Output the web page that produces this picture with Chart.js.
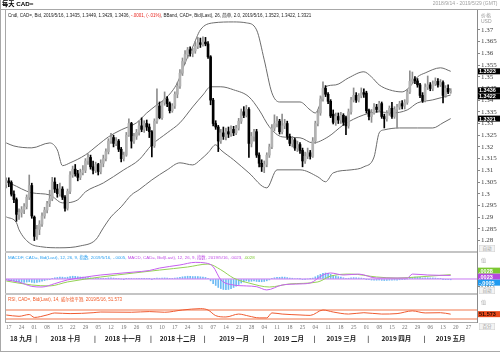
<!DOCTYPE html>
<html>
<head>
<meta charset="utf-8">
<script src="https://cdn.jsdelivr.net/npm/chart.js@4.4.1/dist/chart.umd.min.js"></script>
<style>
html, body { margin: 0; padding: 0; background: #fff; }
#wrap { position: relative; width: 500px; height: 352px; overflow: hidden; background: #fff; }
canvas { position: absolute; left: 0; }
.ln { position: absolute; background: #a8a8a8; }
.t { position: absolute; white-space: nowrap; transform: scale(.5); transform-origin: 0 0; line-height: 1;
     font-family: "Liberation Sans", "Noto Sans CJK SC", sans-serif; color: #222; }
.tr { transform-origin: 100% 0; }
.tag { position: absolute; white-space: nowrap; transform: scale(.5); transform-origin: 0 0; width: 30px; height: 12px;
       border: 1px solid #cfcfcf; background: #f3f3f3; color: #9a9a9a; font: 9px "Noto Sans CJK SC", sans-serif;
       line-height: 12px; text-align: center; }
</style>
</head>
<body>
<div id="wrap">
  <div class="ln" style="left:0;top:0;width:1px;height:352px"></div>
  <div class="ln" style="left:0;top:351px;width:500px;height:1px"></div>
  <div class="ln" style="left:0;top:9px;width:500px;height:1px"></div>
  <div class="ln" style="left:5px;top:9px;width:1px;height:313px"></div>
  <div class="ln" style="left:5px;top:322px;width:472px;height:1px"></div>
  <div class="ln" style="left:5px;top:251px;width:472px;height:2px;background:#c4c4c4"></div>
  <div class="ln" style="left:5px;top:293px;width:472px;height:2px;background:#c4c4c4"></div>

  <canvas id="cPrice" width="500" height="254" style="top:4px"></canvas>
  <canvas id="cMacd" width="500" height="54" style="top:246px"></canvas>
  <canvas id="cRsi" width="500" height="40" style="top:288px"></canvas>
  <canvas id="cAxis" width="500" height="32" style="top:320px"></canvas>

  <div class="t" style="left:2px;top:1px;font-size:12.5px;font-weight:bold;color:#000">每天 CAD=</div>
  <div class="t tr" style="right:2px;top:1px;font-size:10px;color:#a0a0a0">2018/9/14 - 2019/5/29 (GMT)</div>
  <div class="t" style="left:8px;top:12.5px;font-size:9px">Cndl, CAD=, Bid, 2019/5/16, 1.3435, 1.3449, 1.3429, 1.3436, <span style="color:#e8231c">-.0001, (-.01%)</span>, BBand, CAD=, Bid(Last), 26, 简单, 2.0, 2019/5/16, 1.3523, 1.3422, 1.3321</div>
  <div class="t" style="left:481px;top:13px;font-size:10px;color:#999">价格</div>
  <div class="t" style="left:481px;top:19px;font-size:10px;color:#999">USD</div>
  <div class="t" style="left:8px;top:254.5px;font-size:8.8px"><span style="color:#2a9ff0">MACDF, CAD=, Bid(Last), 12, 26, 9, 指数, 2019/5/16, -.0005, </span><span style="color:#c04ee6">MACD, CAD=, Bid(Last), 12, 26, 9, 指数, 2019/5/16, .0023, </span><span style="color:#7cc832">.0028</span></div>
  <div class="t" style="left:481px;top:258px;font-size:10px;color:#aaa">值</div>
  <div class="t" style="left:8px;top:296.5px;font-size:9px;color:#f05a28">RSI, CAD=, Bid(Last), 14, 威尔德平滑, 2019/5/16, 51.573</div>
  <div class="t" style="left:481px;top:300px;font-size:10px;color:#aaa">值</div>
  <div class="tag" style="left:479px;top:245px">自动</div>
  <div class="tag" style="left:479px;top:287px">自动</div>
  <div class="tag" style="left:479px;top:323px">百分</div>
</div>

<script>
// daily candles, 2018/9/14 .. 2019/5/16 (trading days)
const open = [
  1.3040,1.3055,1.3048,1.2998,1.2975,1.2912,1.2920,1.2932,1.2945,1.2985,
  1.3035,1.2900,1.2818,1.2848,1.2870,1.2905,1.2930,1.2958,1.2978,1.3050,
  1.3020,1.3000,1.3020,1.2985,1.2938,1.3010,1.3080,1.3105,1.3085,1.3070,
  1.3090,1.3100,1.3140,1.3155,1.3115,1.3100,1.3125,1.3095,1.3130,1.3150,
  1.3180,1.3225,1.3240,1.3215,1.3225,1.3190,1.3150,1.3165,1.3250,1.3300,
  1.3225,1.3245,1.3262,1.3290,1.3275,1.3300,1.3285,1.3265,1.3205,1.3310,
  1.3375,1.3325,1.3390,1.3405,1.3385,1.3355,1.3375,1.3425,1.3460,1.3515,
  1.3565,1.3595,1.3615,1.3600,1.3610,1.3630,1.3645,1.3638,1.3648,1.3640,
  1.3585,1.3400,1.3300,1.3285,1.3225,1.3260,1.3245,1.3265,1.3255,1.3275,
  1.3260,1.3280,1.3310,1.3350,1.3335,1.3360,1.3215,1.3245,1.3265,1.3165,
  1.3130,1.3115,1.3125,1.3165,1.3200,1.3280,1.3300,1.3310,1.3265,1.3290,
  1.3300,1.3245,1.3215,1.3230,1.3195,1.3210,1.3185,1.3140,1.3160,1.3175,
  1.3160,1.3225,1.3300,1.3345,1.3405,1.3450,1.3425,1.3395,1.3340,1.3305,
  1.3330,1.3315,1.3335,1.3325,1.3290,1.3350,1.3400,1.3420,1.3400,1.3418,
  1.3432,1.3430,1.3355,1.3330,1.3345,1.3370,1.3360,1.3385,1.3330,1.3320,
  1.3345,1.3365,1.3330,1.3360,1.3370,1.3385,1.3375,1.3390,1.3435,1.3480,
  1.3490,1.3482,1.3465,1.3420,1.3398,1.3455,1.3465,1.3450,1.3470,1.3480,
  1.3465,1.3475,1.3420,1.3450,1.3435
];
const high = [
  1.3068,1.3068,1.3055,1.3012,1.2982,1.2935,1.2945,1.2958,1.2995,1.3080,
  1.3045,1.2905,1.2865,1.2885,1.2918,1.2942,1.2968,1.3015,1.3070,1.3068,
  1.3040,1.3045,1.3030,1.2992,1.3020,1.3095,1.3118,1.3125,1.3100,1.3105,
  1.3120,1.3150,1.3170,1.3165,1.3140,1.3135,1.3130,1.3145,1.3165,1.3192,
  1.3235,1.3258,1.3250,1.3240,1.3232,1.3198,1.3178,1.3262,1.3320,1.3305,
  1.3258,1.3275,1.3310,1.3324,1.3312,1.3315,1.3298,1.3270,1.3320,1.3448,
  1.3392,1.3395,1.3435,1.3415,1.3392,1.3385,1.3435,1.3475,1.3530,1.3580,
  1.3612,1.3625,1.3628,1.3622,1.3650,1.3668,1.3665,1.3670,1.3668,1.3650,
  1.3590,1.3408,1.3312,1.3292,1.3275,1.3285,1.3280,1.3285,1.3290,1.3288,
  1.3292,1.3322,1.3362,1.3372,1.3378,1.3368,1.3262,1.3275,1.3275,1.3175,
  1.3145,1.3140,1.3175,1.3212,1.3295,1.3337,1.3330,1.3318,1.3340,1.3318,
  1.3310,1.3255,1.3245,1.3238,1.3225,1.3218,1.3195,1.3178,1.3195,1.3185,
  1.3240,1.3310,1.3358,1.3418,1.3478,1.3462,1.3432,1.3402,1.3358,1.3345,
  1.3345,1.3348,1.3342,1.3332,1.3362,1.3412,1.3452,1.3432,1.3428,1.3452,
  1.3448,1.3438,1.3362,1.3360,1.3385,1.3382,1.3395,1.3392,1.3340,1.3355,
  1.3375,1.3390,1.3372,1.3382,1.3395,1.3398,1.3402,1.3445,1.3525,1.3520,
  1.3500,1.3492,1.3472,1.3432,1.3470,1.3503,1.3475,1.3482,1.3495,1.3492,
  1.3488,1.3482,1.3462,1.3465,1.3449
];
const low = [
  1.3025,1.3030,1.2990,1.2962,1.2882,1.2890,1.2900,1.2915,1.2935,1.2975,
  1.2895,1.2800,1.2805,1.2825,1.2860,1.2895,1.2918,1.2945,1.2970,1.3005,
  1.2985,1.2990,1.2975,1.2925,1.2930,1.3000,1.3070,1.3075,1.3055,1.3060,
  1.3080,1.3090,1.3125,1.3105,1.3085,1.3090,1.3080,1.3085,1.3115,1.3140,
  1.3170,1.3215,1.3200,1.3205,1.3180,1.3136,1.3140,1.3160,1.3245,1.3195,
  1.3215,1.3232,1.3250,1.3265,1.3262,1.3270,1.3240,1.3157,1.3198,1.3300,
  1.3320,1.3318,1.3378,1.3372,1.3345,1.3348,1.3365,1.3410,1.3450,1.3505,
  1.3555,1.3580,1.3588,1.3585,1.3600,1.3620,1.3625,1.3630,1.3632,1.3578,
  1.3380,1.3290,1.3275,1.3180,1.3215,1.3232,1.3230,1.3240,1.3245,1.3248,
  1.3252,1.3272,1.3300,1.3325,1.3328,1.3155,1.3200,1.3225,1.3155,1.3115,
  1.3095,1.3090,1.3115,1.3155,1.3192,1.3268,1.3285,1.3255,1.3255,1.3278,
  1.3232,1.3205,1.3200,1.3185,1.3180,1.3172,1.3115,1.3130,1.3150,1.3148,
  1.3155,1.3215,1.3290,1.3335,1.3395,1.3415,1.3385,1.3325,1.3298,1.3292,
  1.3300,1.3300,1.3292,1.3252,1.3280,1.3340,1.3392,1.3390,1.3392,1.3410,
  1.3412,1.3345,1.3315,1.3305,1.3340,1.3348,1.3352,1.3322,1.3281,1.3310,
  1.3335,1.3322,1.3322,1.3281,1.3360,1.3362,1.3362,1.3382,1.3428,1.3470,
  1.3470,1.3455,1.3410,1.3390,1.3392,1.3445,1.3440,1.3440,1.3462,1.3455,
  1.3458,1.3388,1.3412,1.3428,1.3429
];
const close = [
  1.3055,1.3048,1.2998,1.2975,1.2912,1.2920,1.2932,1.2945,1.2985,1.3035,
  1.2905,1.2818,1.2848,1.2870,1.2905,1.2930,1.2958,1.2978,1.3050,1.3020,
  1.3000,1.3020,1.2985,1.2938,1.3010,1.3080,1.3105,1.3085,1.3070,1.3090,
  1.3100,1.3140,1.3155,1.3115,1.3100,1.3125,1.3095,1.3130,1.3150,1.3180,
  1.3225,1.3240,1.3215,1.3225,1.3190,1.3150,1.3165,1.3250,1.3300,1.3225,
  1.3245,1.3262,1.3290,1.3275,1.3300,1.3285,1.3265,1.3205,1.3310,1.3375,
  1.3325,1.3390,1.3405,1.3385,1.3355,1.3375,1.3425,1.3460,1.3515,1.3565,
  1.3595,1.3615,1.3600,1.3610,1.3630,1.3645,1.3638,1.3648,1.3640,1.3585,
  1.3400,1.3300,1.3285,1.3225,1.3260,1.3245,1.3265,1.3255,1.3275,1.3260,
  1.3280,1.3310,1.3350,1.3335,1.3360,1.3215,1.3245,1.3265,1.3165,1.3130,
  1.3115,1.3125,1.3165,1.3200,1.3280,1.3300,1.3310,1.3265,1.3290,1.3300,
  1.3245,1.3215,1.3230,1.3195,1.3210,1.3185,1.3140,1.3160,1.3175,1.3160,
  1.3225,1.3300,1.3345,1.3405,1.3450,1.3425,1.3395,1.3332,1.3305,1.3330,
  1.3315,1.3335,1.3305,1.3290,1.3350,1.3400,1.3420,1.3400,1.3418,1.3432,
  1.3425,1.3355,1.3330,1.3345,1.3370,1.3360,1.3385,1.3330,1.3320,1.3345,
  1.3365,1.3330,1.3360,1.3370,1.3385,1.3375,1.3390,1.3435,1.3480,1.3490,
  1.3482,1.3465,1.3420,1.3398,1.3455,1.3465,1.3450,1.3470,1.3480,1.3465,
  1.3475,1.3420,1.3450,1.3435,1.3436
];

// Bollinger band (26, 2.0) read at sample days
const bbUpperIdx = [0,3,10,17,20,22,25,31,36,40,45,51,55,59,63,67,70,73,76,81,89,94,98,101,104,107,115,119,121,123,125,129,134,140,143,146,150,155,158,161,164,170,174];
const bbUpper = [1.3217,1.3204,1.3196,1.3217,1.3187,1.3120,1.3132,1.3166,1.3209,1.3243,1.3273,1.3303,1.3345,1.3380,1.3414,1.3474,1.3559,1.3627,1.3700,1.3730,1.3734,1.3730,1.3700,1.3572,1.3431,1.3392,1.3392,1.3358,1.3345,1.3388,1.3457,1.3465,1.3495,1.3521,1.3499,1.3465,1.3444,1.3435,1.3457,1.3499,1.3516,1.3538,1.3523];
const bbMidIdx = [0,2,10,17,22,28,31,38,46,52,57,63,68,73,77,80,84,89,95,99,103,108,115,120,126,132,140,146,151,157,161,167,174];
const bbMid = [1.3051,1.3042,1.3004,1.2995,1.2961,1.2974,1.3008,1.3046,1.3102,1.3145,1.3209,1.3260,1.3303,1.3371,1.3422,1.3457,1.3457,1.3444,1.3414,1.3358,1.3286,1.3243,1.3239,1.3217,1.3243,1.3294,1.3337,1.3350,1.3345,1.3358,1.3388,1.3401,1.3422];
const bbLowerIdx = [0,4,5,9,14,21,29,35,38,41,45,49,52,57,63,68,73,76,79,82,84,89,95,102,106,115,122,125,128,135,140,144,146,148,154,161,167,171,174];
const bbLower = [1.2901,1.2876,1.2846,1.2790,1.2773,1.2769,1.2777,1.2803,1.2854,1.2901,1.2944,1.2995,1.3017,1.3059,1.3102,1.3132,1.3123,1.3145,1.3175,1.3209,1.3187,1.3145,1.3089,1.3025,1.3102,1.3102,1.3072,1.3051,1.3089,1.3102,1.3115,1.3157,1.3260,1.3273,1.3281,1.3281,1.3281,1.3303,1.3321];

// MACD (12, 26, 9)
const macdIdx = [0,5,10,14,19,24,30,37,43,50,56,60,68,74,78,81,84,89,94,98,102,108,115,119,124,127,132,138,145,151,157,159,165,174];
const macdLine = [-0.0006,-0.0020,-0.0048,-0.0052,-0.0030,-0.0006,0.0010,0.0026,0.0035,0.0045,0.0055,0.0071,0.0091,0.0108,0.0104,0.0080,-0.0005,-0.0039,-0.0045,-0.0050,-0.0071,-0.0039,-0.0032,-0.0026,0.0026,0.0039,0.0026,0.0032,0.0006,0.0006,0.0006,0.0032,0.0026,0.0023];
const signalIdx = [0,10,17,24,37,50,60,71,79,84,89,95,103,111,122,127,135,145,153,161,174];
const signalLine = [-0.0013,-0.0039,-0.0045,-0.0019,0.0013,0.0039,0.0058,0.0078,0.0097,0.0060,0.0006,-0.0026,-0.0052,-0.0032,-0.0019,0.0019,0.0032,0.0013,0.0006,0.0013,0.0028];
const macdHist = [
  -0.0005,-0.0007,-0.0010,-0.0013,-0.0017,-0.0019,-0.0021,-0.0022,-0.0020,-0.0018,
  -0.0022,-0.0025,-0.0023,-0.0019,-0.0014,-0.0010,-0.0006,-0.0002,0.0004,0.0008,
  0.0010,0.0013,0.0012,0.0009,0.0012,0.0016,0.0018,0.0017,0.0015,0.0013,
  0.0012,0.0011,0.0010,0.0007,0.0005,0.0004,0.0002,0.0003,0.0004,0.0005,
  0.0007,0.0008,0.0006,0.0005,0.0003,0.0000,-0.0001,0.0002,0.0005,0.0003,
  0.0003,0.0003,0.0004,0.0004,0.0004,0.0003,0.0002,-0.0001,0.0002,0.0006,
  0.0005,0.0006,0.0007,0.0006,0.0004,0.0004,0.0006,0.0008,0.0011,0.0014,
  0.0016,0.0018,0.0017,0.0016,0.0016,0.0016,0.0014,0.0012,0.0010,0.0005,
  -0.0012,-0.0030,-0.0042,-0.0055,-0.0062,-0.0068,-0.0070,-0.0068,-0.0062,-0.0055,
  -0.0046,-0.0036,-0.0026,-0.0019,-0.0012,-0.0016,-0.0015,-0.0012,-0.0016,-0.0018,
  -0.0018,-0.0016,-0.0012,-0.0006,0.0002,0.0008,0.0011,0.0011,0.0012,0.0012,
  0.0009,0.0006,0.0005,0.0003,0.0003,0.0001,-0.0002,-0.0001,0.0000,0.0001,
  0.0006,0.0014,0.0022,0.0030,0.0036,0.0039,0.0036,0.0030,0.0024,0.0020,
  0.0015,0.0012,0.0008,0.0004,0.0005,0.0007,0.0009,0.0008,0.0007,0.0006,
  0.0004,-0.0001,-0.0005,-0.0007,-0.0008,-0.0008,-0.0007,-0.0009,-0.0010,-0.0009,
  -0.0008,-0.0008,-0.0007,-0.0007,-0.0005,-0.0004,-0.0003,0.0000,0.0006,0.0010,
  0.0012,0.0013,0.0011,0.0007,0.0008,0.0008,0.0007,0.0007,0.0006,0.0005,
  0.0004,-0.0001,-0.0002,-0.0004,-0.0005
];

// RSI (14)
const rsiIdx = [0,5,9,11,16,19,25,34,37,49,56,62,69,76,79,82,86,91,95,99,102,104,108,115,119,124,128,134,140,147,153,159,164,170,174];
const rsiLine = [47.8,42,50,37,48,56.7,54,58,61,60,63,60,70,76,70,45,39,52,43,35,35,57,52,48,46,70,61,52,58,52,54,66,57,58,51.573];

// axis labels
const priceTicks = [1.28,1.285,1.29,1.295,1.30,1.305,1.31,1.315,1.32,1.325,1.33,1.335,1.34,1.345,1.35,1.355,1.36,1.365,1.37];
const mondayLabels = ['17','24','01','08','15','22','29','05','12','19','26','03','10','17','24','31','07','14','21','28','04','11','18','25','04','11','18','25','01','08','15','22','29','06','13','20','27'];
const monthStart = [11, 34, 56, 77, 100, 120, 141, 163];
const monthNames = ['18 九月','2018 十月','2018 十一月','2018 十二月','2019 一月','2019 二月','2019 三月','2019 四月','2019 五月'];

const X_MIN = -0.1, X_MAX = 184.3;
Chart.defaults.font.family = '"Liberation Sans", "Noto Sans CJK SC", sans-serif';

const pts = (xs, ys) => xs.map((x, k) => ({x: x, y: ys[k]}));
const fixWidth = s => { s.width = 23; };
const xHidden = { type: 'linear', min: X_MIN, max: X_MAX, display: false, offset: false };

// boxes with current values on the right axis
const valueBoxes = {
    id: 'valueBoxes',
    afterDraw(chart, args, opts) {
        const ys = chart.scales.y, ctx = chart.ctx, h = 6;
        const items = opts.items.map(it => Object.assign({}, it, {py: ys.getPixelForValue(it.value)}));
        items.sort((a, b) => a.py - b.py);
        let groups = items.map(it => ({list: [it], c: it.py}));
        let again = true;
        while (again) {
            again = false;
            for (let k = 0; k < groups.length - 1; k++) {
                const a = groups[k], b = groups[k + 1];
                if (a.c + a.list.length * h / 2 > b.c - b.list.length * h / 2) {
                    const list = a.list.concat(b.list);
                    groups.splice(k, 2, {list: list, c: list.reduce((s, it) => s + it.py, 0) / list.length});
                    again = true;
                    break;
                }
            }
        }
        ctx.save();
        ctx.font = 'bold 5.5px "Liberation Sans"';
        ctx.textBaseline = 'middle';
        groups.forEach(g => g.list.forEach((it, j) => {
            const top = g.c - g.list.length * h / 2 + j * h;
            ctx.fillStyle = it.bg;
            ctx.fillRect(ys.left + 1, top, 22, h);
            ctx.fillStyle = it.fg || '#fff';
            ctx.fillText(it.text, ys.left + 2, top + h / 2 + 0.5);
        }));
        ctx.restore();
    }
};

const up = close.map((c, i) => c >= open[i]);

new Chart(document.getElementById('cPrice'), {
    type: 'bar',
    data: {
        datasets: [
            {
                data: close.map((c, i) => ({x: i, y: [open[i], c]})),
                backgroundColor: up.map(u => u ? '#b2b2b2' : '#000'),
                barThickness: 2, minBarLength: 1, grouped: false
            },
            {
                data: close.map((c, i) => ({x: i, y: [low[i], high[i]]})),
                backgroundColor: up.map(u => u ? '#8e8e8e' : '#000'),
                barThickness: 1, grouped: false
            },
            { type: 'line', data: pts(bbUpperIdx, bbUpper), borderColor: '#6c6c6c', borderWidth: 1, pointRadius: 0, cubicInterpolationMode: 'monotone' },
            { type: 'line', data: pts(bbMidIdx, bbMid), borderColor: '#6c6c6c', borderWidth: 1, pointRadius: 0, cubicInterpolationMode: 'monotone' },
            { type: 'line', data: pts(bbLowerIdx, bbLower), borderColor: '#6c6c6c', borderWidth: 1, pointRadius: 0, cubicInterpolationMode: 'monotone' }
        ]
    },
    options: {
        responsive: false, animation: false, devicePixelRatio: 1,
        layout: { padding: { left: 6, right: 0, top: 6, bottom: 6 } },
        plugins: {
            legend: { display: false }, tooltip: { enabled: false },
            valueBoxes: { items: [
                { value: 1.3523, text: '1.3523', bg: '#000' },
                { value: 1.3436, text: '1.3436', bg: '#000' },
                { value: 1.3422, text: '1.3422', bg: '#000' },
                { value: 1.3321, text: '1.3321', bg: '#000' }
            ] }
        },
        scales: {
            x: xHidden,
            y: {
                position: 'right', min: 1.2751, max: 1.3785,
                afterBuildTicks: s => { s.ticks = priceTicks.map(v => ({value: v})); },
                afterFit: fixWidth,
                grid: { drawOnChartArea: false, tickLength: 3, color: '#888' },
                border: { color: '#8a8a8a' },
                ticks: { padding: 1, color: '#444', font: { size: 7, family: '"Liberation Serif"' },
                         callback: v => String(+v.toFixed(3)) }
            }
        }
    },
    plugins: [valueBoxes]
});

const shortFmt = v => v === 0 ? '0' : v.toFixed(3).replace('0.', '.');

new Chart(document.getElementById('cMacd'), {
    type: 'bar',
    data: {
        datasets: [
            { type: 'line', data: pts(macdIdx, macdLine), borderColor: '#c65ff0', borderWidth: 1, pointRadius: 0, cubicInterpolationMode: 'monotone' },
            { type: 'line', data: pts(signalIdx, signalLine), borderColor: '#95d255', borderWidth: 1, pointRadius: 0, cubicInterpolationMode: 'monotone' },
            { type: 'line', data: [{x: X_MIN, y: 0}, {x: X_MAX, y: 0}], borderColor: '#c879f2', borderWidth: 1, pointRadius: 0 },
            { data: macdHist.map((v, i) => ({x: i, y: v})), backgroundColor: '#6cbaf4', barThickness: 1, grouped: false }
        ]
    },
    options: {
        responsive: false, animation: false, devicePixelRatio: 1,
        layout: { padding: { left: 6, right: 0, top: 6, bottom: 6 } },
        plugins: {
            legend: { display: false }, tooltip: { enabled: false },
            valueBoxes: { items: [
                { value: 0.0028, text: '.0028', bg: '#7cc832' },
                { value: 0.0023, text: '.0023', bg: '#b548e0' },
                { value: -0.0005, text: '-.0005', bg: '#1f9af0' }
            ] }
        },
        scales: {
            x: xHidden,
            y: {
                position: 'right', min: -0.00974, max: 0.01753,
                afterBuildTicks: s => { s.ticks = [-0.005, 0, 0.005].map(v => ({value: v})); },
                afterFit: fixWidth,
                grid: { drawOnChartArea: false, tickLength: 3, color: '#888' },
                border: { color: '#8a8a8a' },
                ticks: { padding: 1, color: '#666', font: { size: 6.5, family: '"Liberation Serif"' }, callback: shortFmt }
            }
        }
    },
    plugins: [valueBoxes]
});

new Chart(document.getElementById('cRsi'), {
    type: 'line',
    data: {
        datasets: [
            { data: pts(rsiIdx, rsiLine), borderColor: '#ef5a30', borderWidth: 1, pointRadius: 0, cubicInterpolationMode: 'monotone' },
            { data: [{x: X_MIN, y: 70}, {x: X_MAX, y: 70}], borderColor: '#f8bba6', borderWidth: 2, pointRadius: 0 },
            { data: [{x: X_MIN, y: 30}, {x: X_MAX, y: 30}], borderColor: '#f8bba6', borderWidth: 2, pointRadius: 0 }
        ]
    },
    options: {
        responsive: false, animation: false, devicePixelRatio: 1,
        layout: { padding: { left: 6, right: 0, top: 6, bottom: 6 } },
        plugins: {
            legend: { display: false }, tooltip: { enabled: false },
            valueBoxes: { items: [ { value: 51.573, text: '51.573', bg: '#ea4a1c', fg: '#2a0a00' } ] }
        },
        scales: {
            x: xHidden,
            y: {
                position: 'right', min: 16.7, max: 141.1,
                afterFit: fixWidth,
                grid: { drawOnChartArea: false, drawTicks: false },
                border: { color: '#8a8a8a' },
                ticks: { display: false }
            }
        }
    },
    plugins: [valueBoxes]
});

// date axis: Mondays on the first row, months on the second
const mondayIdx = mondayLabels.map((_, k) => 1 + 5 * k);
const sepPos = monthStart.map(i => i + 0.7);
const edges = [X_MIN].concat(sepPos, [X_MAX]);
const monthTicks = [];
sepPos.forEach(p => monthTicks.push({value: p, label: '|'}));
monthNames.forEach((n, k) => monthTicks.push({value: (edges[k] + edges[k + 1]) / 2, label: n}));
monthTicks.sort((a, b) => a.value - b.value);

new Chart(document.getElementById('cAxis'), {
    type: 'line',
    data: { datasets: [] },
    options: {
        responsive: false, animation: false, devicePixelRatio: 1,
        layout: { padding: { left: 6, right: 23, top: 0, bottom: 0 } },
        plugins: { legend: { display: false }, tooltip: { enabled: false } },
        scales: {
            y: { display: false, min: 0, max: 1 },
            x: {
                type: 'linear', position: 'bottom', min: X_MIN, max: X_MAX, weight: 0, offset: false,
                afterBuildTicks: s => { s.ticks = mondayIdx.map(v => ({value: v})); },
                afterFit: s => { s.height = 12; },
                grid: { display: false, drawTicks: false }, border: { display: false },
                ticks: { autoSkip: false, maxRotation: 0, minRotation: 0, padding: 2, color: '#777',
                         font: { size: 5.5, family: '"Liberation Serif"' },
                         callback: (v, i) => mondayLabels[i] }
            },
            xm: {
                type: 'linear', position: 'bottom', min: X_MIN, max: X_MAX, weight: 1, offset: false,
                afterBuildTicks: s => { s.ticks = monthTicks.map(t => ({value: t.value})); },
                afterFit: s => { s.height = 18; },
                grid: { display: false, drawTicks: false }, border: { display: false },
                ticks: { autoSkip: false, maxRotation: 0, minRotation: 0, padding: 0.5, color: '#1a1a1a',
                         font: { size: 6.5, weight: 'bold', family: '"Noto Sans CJK SC", "Liberation Sans"' },
                         callback: (v, i) => monthTicks[i].label }
            }
        }
    }
});
</script>
</body>
</html>
